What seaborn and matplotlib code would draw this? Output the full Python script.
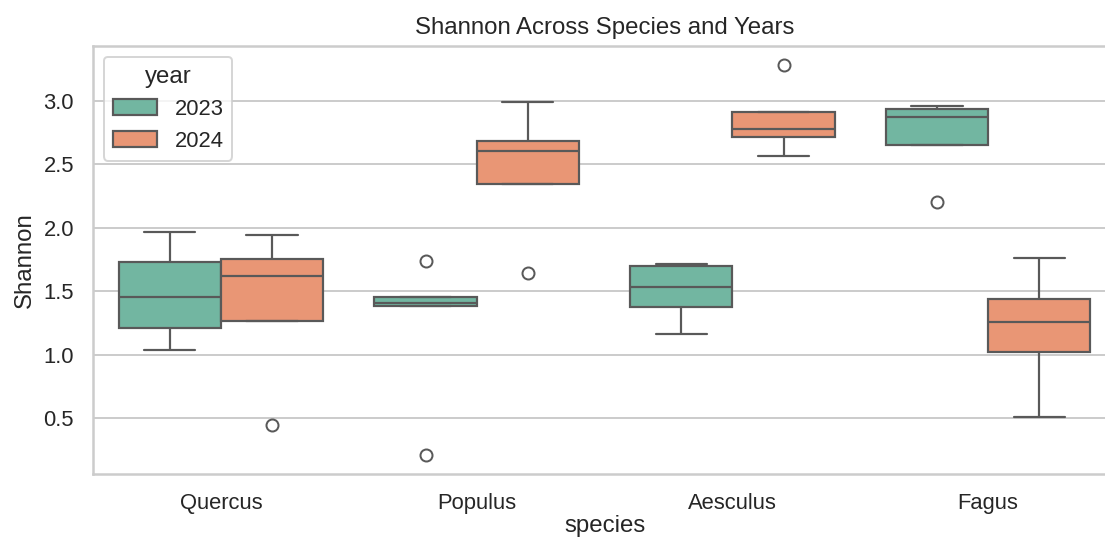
import pandas as pd
import matplotlib
matplotlib.use("Agg")
import matplotlib.pyplot as plt
import seaborn as sns

# valores (5 muestras por grupo)
species = ["Quercus", "Populus", "Aesculus", "Fagus"]
years = ["2023", "2024"]

quercus_2023 = [1.038, 1.209, 1.459, 1.732, 1.971]
quercus_2024 = [0.447, 1.267, 1.619, 1.758, 1.944]
populus_2023 = [0.216, 1.382, 1.411, 1.459, 1.739]
populus_2024 = [1.648, 2.346, 2.603, 2.682, 2.992]
aesculus_2023 = [1.164, 1.377, 1.532, 1.703, 1.716]
aesculus_2024 = [2.567, 2.716, 2.779, 2.913, 3.278]
fagus_2023 = [2.205, 2.653, 2.869, 2.937, 2.955]
fagus_2024 = [0.510, 1.023, 1.259, 1.437, 1.766]

grupos = {
    ("Quercus", "2023"): quercus_2023,
    ("Quercus", "2024"): quercus_2024,
    ("Populus", "2023"): populus_2023,
    ("Populus", "2024"): populus_2024,
    ("Aesculus", "2023"): aesculus_2023,
    ("Aesculus", "2024"): aesculus_2024,
    ("Fagus", "2023"): fagus_2023,
    ("Fagus", "2024"): fagus_2024,
}

filas = []
for (sp, yr), vals in grupos.items():
    for v in vals:
        filas.append({"species": sp, "year": yr, "Shannon": v})
df = pd.DataFrame(filas)

sns.set_theme(style="whitegrid")
plt.rcParams["font.family"] = ["Liberation Sans", "DejaVu Sans"]

fig = plt.figure(figsize=(1105 / 144, 539 / 144), dpi=144)
ax = fig.add_axes([0.0842, 0.1206, 0.9258, 0.7941])

sns.boxplot(data=df, x="species", y="Shannon", hue="year",
            order=species, hue_order=years, palette="Set2",
            linewidth=1.1, ax=ax)
ax.set_title("Shannon Across Species and Years")
ax.set_xlabel("species", labelpad=0.5)
ax.legend(title="year", loc="upper left")

fig.savefig("out.png", dpi=144)
